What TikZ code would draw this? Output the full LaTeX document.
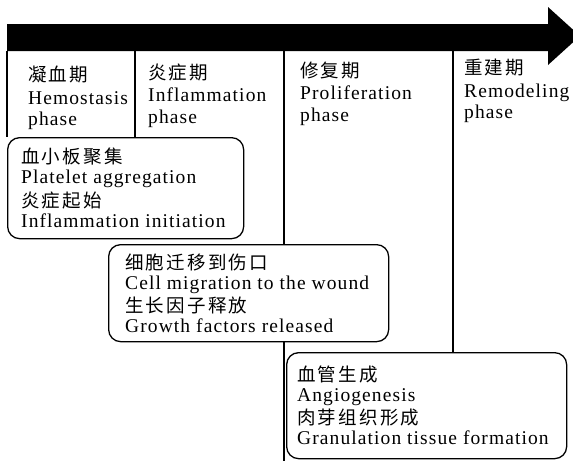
\documentclass[tikz,border=0pt]{standalone}
\usepackage{fontspec}
\setmainfont{Liberation Serif}
\newfontfamily\cjkfont{Noto Sans CJK SC}[LetterSpace=12]
\newfontfamily\latfont{Liberation Serif}[LetterSpace=5.6]
\begin{document}
\begin{tikzpicture}[x=1pt,y=-1pt,
  cjk/.style={anchor=base west,inner sep=0pt,font=\cjkfont\fontsize{18.5}{20}\selectfont},
  lat/.style={anchor=base west,inner sep=0pt,font=\latfont\fontsize{19.5}{22}\selectfont},
  phasebox/.style={draw,line width=1.3pt,rounded corners=12pt,fill=white,anchor=north west,inner sep=0pt},
  divider/.style={line width=1.3pt}]
\useasboundingbox (0,0) rectangle (573,461);
% timeline arrow
\fill (7,24) -- (548,24) -- (548,7) -- (580,36) -- (548,65) -- (548,51) -- (7,51) -- cycle;
\coordinate (t0) at (7,51);
\coordinate (t1) at (135,51);
\coordinate (t2) at (284,51);
\coordinate (t3) at (453,51);
\coordinate (bot) at (284,461);
% boxes
\node[phasebox,minimum width=236pt,minimum height=101pt] (b1) at (7,137) {};
\node[phasebox,minimum width=280pt,minimum height=97pt] (b2) at (108,244) {};
\node[phasebox,minimum width=280pt,minimum height=106pt] (b3) at (286,352) {};
% dividers
\draw[divider] (t0) -- (t0 |- b1.north);
\draw[divider] (t1) -- (t1 |- b1.north);
\draw[divider] (t2) -- (t2 |- b2.north);
\draw[divider] (t2 |- b2.south) -- (bot);
\draw[divider] (t3) -- (t3 |- b3.north);
% headers
\node[cjk] (h1a) at (28,81.5) {凝血期};
\node[lat] (h1b) at (28,104) {Hemostasis};
\node[lat] (h1c) at (28,125) {phase};
\node[cjk] (h2a) at (148,79.5) {炎症期};
\node[lat] (h2b) at (148,101.5) {Inflammation};
\node[lat] (h2c) at (148,123) {phase};
\node[cjk] (h3a) at (300,77.5) {修复期};
\node[lat] (h3b) at (300,99) {Proliferation};
\node[lat] (h3c) at (300,121) {phase};
\node[cjk] (h4a) at (464,74.5) {重建期};
\node[lat] (h4b) at (464,97) {Remodeling};
\node[lat] (h4c) at (464,118.5) {phase};
% box texts
\node[cjk] (p1a) at (21,163.5) {血小板聚集};
\node[lat] (p1b) at (21,183.5) {Platelet aggregation};
\node[cjk] (p1c) at (21,207) {炎症起始};
\node[lat] (p1d) at (21,227) {Inflammation initiation};
\node[cjk] (p2a) at (125,269) {细胞迁移到伤口};
\node[lat] (p2b) at (125,289) {Cell migration to the wound};
\node[cjk] (p2c) at (125,312.5) {生长因子释放};
\node[lat] (p2d) at (125,332.5) {Growth factors released};
\node[cjk] (p3a) at (297,381) {血管生成};
\node[lat] (p3b) at (297,401) {Angiogenesis};
\node[cjk] (p3c) at (297,424.5) {肉芽组织形成};
\node[lat] (p3d) at (297,444.5) {Granulation tissue formation};
\end{tikzpicture}
\end{document}
